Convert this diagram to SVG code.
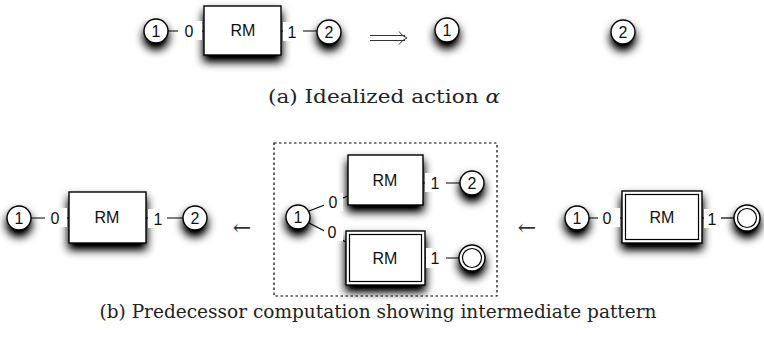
<svg xmlns="http://www.w3.org/2000/svg" width="764" height="343" viewBox="0 0 764 343">
<defs>
<filter id="sh" x="-60%" y="-60%" width="220%" height="260%">
<feGaussianBlur in="SourceAlpha" stdDeviation="5"/>
<feOffset dx="0" dy="6"/>
<feComponentTransfer><feFuncA type="linear" slope="1.2"/></feComponentTransfer>
<feMerge><feMergeNode/><feMergeNode in="SourceGraphic"/></feMerge>
</filter>
</defs>
<style>
.n{fill:#fff;stroke:#000;stroke-width:1.4;filter:url(#sh)}
.in{fill:none;stroke:#000;stroke-width:1.2}
.c{stroke:#000;stroke-width:1.2;fill:none}
.lb{fill:#fff}
.t{font-family:"Liberation Sans",Arial,sans-serif;font-size:16px;text-anchor:middle;fill:#111}
.cap{font-family:"DejaVu Serif","Liberation Serif",serif;font-size:19px;text-anchor:middle;fill:#222}
.ar{font-family:"DejaVu Serif","Liberation Serif",serif;font-size:22px;text-anchor:middle;fill:#333}
</style>
<rect width="764" height="343" fill="#fff"/>

<g id="connectors">
<line class="c" x1="168" y1="31" x2="204" y2="31"/>
<line class="c" x1="281" y1="31" x2="317" y2="31"/>
<line class="c" x1="31" y1="218" x2="69" y2="218"/>
<line class="c" x1="146" y1="218" x2="183" y2="218"/>
<line class="c" x1="309" y1="211" x2="348" y2="196"/>
<line class="c" x1="309" y1="223" x2="346" y2="242"/>
<line class="c" x1="423" y1="183" x2="460" y2="183"/>
<line class="c" x1="425" y1="258" x2="459" y2="258"/>
<line class="c" x1="589" y1="218" x2="622" y2="218"/>
<line class="c" x1="702" y1="218" x2="734" y2="218"/>
</g>

<!-- top row -->
<g id="a-n1"><circle class="n" cx="156" cy="31" r="12"/><text class="t" x="156" y="37">1</text></g>
<g id="a-rm"><rect class="n" x="204" y="6" width="77" height="49"/><text class="t" x="243" y="36">RM</text></g>
<g id="a-l0"><rect class="lb" x="178" y="21" width="24" height="19"/><text class="t" x="189" y="37">0</text></g>
<g id="a-l1"><rect class="lb" x="283" y="22" width="20" height="19"/><text class="t" x="292" y="38">1</text></g>
<g id="a-n2"><circle class="n" cx="329" cy="32" r="12"/><text class="t" x="329" y="38">2</text></g>
<g id="implies" fill="none" stroke="#333" stroke-width="1">
<line x1="370" y1="35.5" x2="405" y2="35.5"/>
<line x1="370" y1="40.5" x2="405" y2="40.5"/>
<path d="M399,31.5 Q402,36 407,38 Q402,40 399,44.5"/>
</g>
<g id="a-r1"><circle class="n" cx="447" cy="30" r="12"/><text class="t" x="447" y="36">1</text></g>
<g id="a-r2"><circle class="n" cx="623" cy="32" r="12"/><text class="t" x="623" y="38">2</text></g>
<text class="cap" x="384" y="103" textLength="232" lengthAdjust="spacingAndGlyphs">(a) Idealized action <tspan font-style="italic">α</tspan></text>

<!-- bottom left -->
<g id="b-n1"><circle class="n" cx="19" cy="218" r="12"/><text class="t" x="19" y="224">1</text></g>
<g id="b-rm"><rect class="n" x="69" y="192" width="77" height="51"/><text class="t" x="107" y="223">RM</text></g>
<g id="b-l0"><rect class="lb" x="45" y="208" width="22" height="19"/><text class="t" x="55" y="224">0</text></g>
<g id="b-l1"><rect class="lb" x="148" y="209" width="19" height="19"/><text class="t" x="158" y="225">1</text></g>
<g id="b-n2"><circle class="n" cx="195" cy="218" r="12"/><text class="t" x="195" y="224">2</text></g>
<text class="ar" x="242" y="235">←</text>

<!-- middle dashed -->
<rect x="274" y="143" width="223" height="153" fill="none" stroke="#000" stroke-width="1.2" stroke-dasharray="2.5,2.5"/>
<g id="m-n1"><circle class="n" cx="298" cy="217" r="12"/><text class="t" x="298" y="223">1</text></g>
<g id="m-rm1"><rect class="n" x="348" y="155" width="75" height="50"/><text class="t" x="385" y="186">RM</text></g>
<g id="m-l0a"><rect class="lb" x="324" y="193" width="19" height="18"/><text class="t" x="333" y="208">0</text></g>
<g id="m-l1a"><rect class="lb" x="425" y="173" width="21" height="19"/><text class="t" x="435" y="189">1</text></g>
<g id="m-n2"><circle class="n" cx="472" cy="183" r="12"/><text class="t" x="472" y="189">2</text></g>
<g id="m-rm2"><rect class="n" x="346" y="231" width="79" height="54"/><rect class="in" x="349.5" y="234.5" width="72" height="47"/><text class="t" x="385" y="264">RM</text></g>
<g id="m-l0b"><rect class="lb" x="324" y="223" width="19" height="18"/><text class="t" x="332" y="238">0</text></g>
<g id="m-l1b"><rect class="lb" x="426" y="248" width="20" height="20"/><text class="t" x="435" y="264">1</text></g>
<g id="m-f"><circle class="n" cx="472" cy="258" r="13"/><circle class="in" cx="472" cy="258" r="9.5"/></g>
<text class="ar" x="527" y="235">←</text>

<!-- right -->
<g id="r-n1"><circle class="n" cx="577" cy="218" r="12"/><text class="t" x="577" y="224">1</text></g>
<g id="r-rm"><rect class="n" x="622" y="191" width="80" height="52"/><rect class="in" x="625.5" y="194.5" width="73" height="45"/><text class="t" x="662" y="223">RM</text></g>
<g id="r-l0"><rect class="lb" x="598" y="208" width="22" height="19"/><text class="t" x="607" y="224">0</text></g>
<g id="r-l1"><rect class="lb" x="704" y="209" width="17" height="19"/><text class="t" x="712" y="225">1</text></g>
<g id="r-f"><circle class="n" cx="747" cy="218" r="13"/><circle class="in" cx="747" cy="218" r="9.5"/></g>
<text class="cap" x="378" y="318" textLength="557" lengthAdjust="spacingAndGlyphs">(b) Predecessor computation showing intermediate pattern</text>
</svg>
